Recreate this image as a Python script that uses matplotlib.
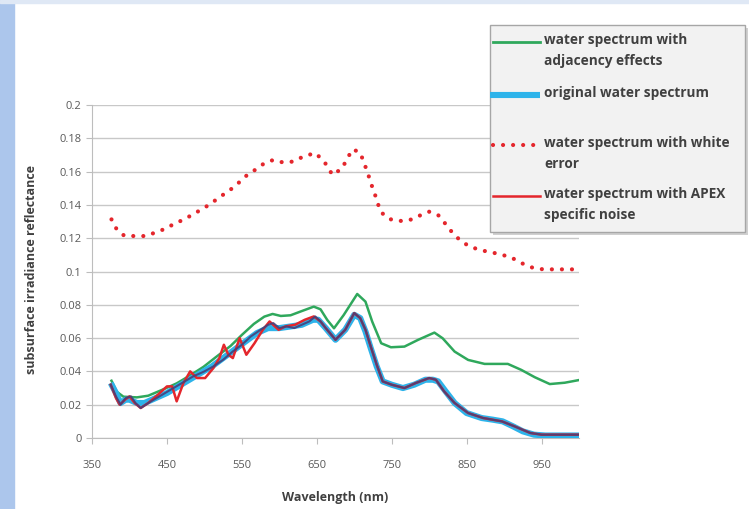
import matplotlib
matplotlib.use('Agg')
import matplotlib.pyplot as plt
from matplotlib.lines import Line2D
from matplotlib.patches import Rectangle

plt.rcParams['font.family'] = ['Open Sans', 'DejaVu Sans']

# white error spectrum (dotted)
wl_white = [376, 383, 393, 406, 421, 434, 448, 460, 474, 486, 498, 509, 521, 533, 544, 554,
            566, 580, 592, 605, 618, 632, 648, 660, 671, 684, 690, 698, 708, 713, 718, 722,
            727, 731, 736, 747, 760, 774, 787, 800, 812, 822, 830, 840, 852, 865, 878, 894,
            910, 924, 938, 952, 965, 981, 1000]
white = [0.1313, 0.1253, 0.1215, 0.1213, 0.1213, 0.1233, 0.1257, 0.1287, 0.1315, 0.1347,
         0.1377, 0.1409, 0.1449, 0.1485, 0.1525, 0.1569, 0.1605, 0.1650, 0.1670, 0.1655,
         0.1660, 0.1690, 0.1712, 0.1660, 0.1580, 0.1620, 0.1674, 0.1734, 0.1714, 0.1653,
         0.1593, 0.1533, 0.1473, 0.1413, 0.1355, 0.1315, 0.1303, 0.1309, 0.1335, 0.1359,
         0.1339, 0.1285, 0.1239, 0.1193, 0.1155, 0.1133, 0.1119, 0.1105, 0.1083, 0.1049,
         0.1023, 0.1013, 0.1013, 0.1013, 0.1013]

# adjacency effects spectrum
wl_adj = [376, 383, 392, 410, 425, 443, 463, 481, 499, 516, 535, 550, 566, 580, 591, 602,
          615, 628, 646, 655, 664, 673, 686, 704, 715, 724, 736, 749, 767, 785, 807, 818,
          834, 852, 874, 905, 923, 941, 961, 981, 1000]
adj = [0.0344, 0.0278, 0.0248, 0.0244, 0.0254, 0.0288, 0.0328, 0.0376, 0.0428, 0.0488,
       0.0553, 0.0619, 0.0685, 0.0729, 0.0745, 0.0733, 0.0737, 0.0759, 0.0789, 0.0773,
       0.0709, 0.0659, 0.0739, 0.0865, 0.0819, 0.0699, 0.0569, 0.0545, 0.0549, 0.0589,
       0.0633, 0.0599, 0.0519, 0.0469, 0.0445, 0.0445, 0.0409, 0.0365, 0.0324, 0.0332,
       0.0348]

# original spectrum
wl_orig = [375, 382, 388, 395, 400, 410, 420, 435, 450, 465, 480, 495, 510, 525, 540, 555,
           570, 585, 600, 615, 630, 645, 652, 662, 675, 688, 700, 708, 715, 722, 730, 738,
           750, 765, 780, 795, 805, 812, 822, 834, 850, 870, 885, 898, 912, 925, 940, 955,
           1000]
orig = [0.033, 0.027, 0.021, 0.023, 0.023, 0.021, 0.021, 0.024, 0.027, 0.031, 0.035, 0.039,
        0.043, 0.048, 0.053, 0.058, 0.063, 0.066, 0.066, 0.067, 0.068, 0.071, 0.071, 0.066,
        0.059, 0.065, 0.074, 0.072, 0.064, 0.054, 0.043, 0.034, 0.032, 0.030, 0.032, 0.035,
        0.035, 0.034, 0.028, 0.021, 0.015, 0.012, 0.011, 0.010, 0.007, 0.004, 0.002, 0.0015,
        0.0015]

# dark overlay line (drawn with the noise series)
wl_dark = [375, 382, 388, 395, 402, 408, 415, 425, 440, 455, 470, 485, 500, 512, 525, 538,
           550, 562, 575, 585, 592, 600, 610, 620, 630, 640, 648, 655, 662, 675, 688, 700,
           708, 715, 722, 730, 738, 750, 767, 782, 800, 809, 820, 834, 852, 872, 897, 914,
           935, 950, 1000]
dark = [0.032, 0.025, 0.020, 0.024, 0.025, 0.021, 0.018, 0.021, 0.025, 0.029, 0.033, 0.037,
        0.040, 0.043, 0.047, 0.052, 0.056, 0.061, 0.065, 0.068, 0.069, 0.066, 0.067, 0.066,
        0.068, 0.070, 0.073, 0.070, 0.066, 0.059, 0.065, 0.075, 0.072, 0.065, 0.055, 0.044,
        0.034, 0.032, 0.030, 0.033, 0.036, 0.035, 0.028, 0.021, 0.015, 0.012, 0.010, 0.007,
        0.003, 0.002, 0.002]

# APEX specific noise spectrum
wl_apex = [375, 382, 387, 394, 400, 407, 415, 425, 438, 450, 457, 463, 472, 481, 490, 501,
           512, 520, 526, 532, 538, 547, 556, 567, 578, 587, 599, 608, 621, 634, 646, 655,
           662, 675, 688, 700, 708, 715, 722, 730, 738, 750, 767, 782, 800, 809, 820, 834,
           852, 872, 897, 914, 935, 950, 1000]
apex = [0.032, 0.024, 0.020, 0.023, 0.025, 0.021, 0.018, 0.021, 0.026, 0.031, 0.031, 0.022,
        0.033, 0.040, 0.036, 0.036, 0.042, 0.048, 0.056, 0.050, 0.048, 0.060, 0.050, 0.057,
        0.065, 0.070, 0.065, 0.067, 0.068, 0.071, 0.073, 0.070, 0.066, 0.059, 0.065, 0.075,
        0.072, 0.065, 0.055, 0.044, 0.034, 0.032, 0.030, 0.033, 0.036, 0.035, 0.028, 0.021,
        0.015, 0.012, 0.010, 0.007, 0.003, 0.002, 0.002]

x_ticks = [350, 450, 550, 650, 750, 850, 950]
y_ticks = [0, 0.02, 0.04, 0.06, 0.08, 0.1, 0.12, 0.14, 0.16, 0.18, 0.2]
y_tick_labels = ['0', '0.02', '0.04', '0.06', '0.08', '0.1', '0.12', '0.14', '0.16', '0.18', '0.2']

legend_labels = ['water spectrum with\nadjacency effects',
                 'original water spectrum',
                 'water spectrum with white\nerror',
                 'water spectrum with APEX\nspecific noise']

c_green = '#2fa85c'
c_blue = '#2db3ea'
c_red = '#e4262c'
c_dark = '#46407a'
c_tick = '#595959'
dots = (0, (0.01, 2.4))

W, H = 749, 509
fig = plt.figure(figsize=(W / 100, H / 100), dpi=100)
fig.patches.append(Rectangle((0, 0), 14 / W, 1, transform=fig.transFigure,
                             color='#acc6ec', zorder=0))
fig.patches.append(Rectangle((0, 1 - 3 / H), 1, 3 / H, transform=fig.transFigure,
                             color='#dfe8f5', zorder=0))

ax = fig.add_axes([92 / W, 1 - 438 / H, (579 - 92) / W, (438 - 105) / H])

ax.plot(wl_white, white, color=c_red, lw=3.0, linestyle=dots,
        dash_capstyle='round', zorder=3)
ax.plot(wl_adj, adj, color=c_green, lw=1.8, zorder=3)
ax.plot(wl_orig, orig, color=c_blue, lw=4.4, solid_capstyle='butt', zorder=3)
ax.plot(wl_apex, apex, color=c_red, lw=1.8, zorder=4)
ax.plot(wl_dark, dark, color=c_dark, lw=1.5, alpha=0.9, zorder=5)

ax.set_xlim(350, 1000)
ax.set_ylim(0, 0.2)
ax.set_xticks(x_ticks)
ax.set_yticks(y_ticks)
ax.set_yticklabels(y_tick_labels)
ax.grid(axis='y', color='#c8c8c8', lw=1)
ax.set_axisbelow(True)
for s in ['top', 'right']:
    ax.spines[s].set_visible(False)
for s in ['left', 'bottom']:
    ax.spines[s].set_color('#bdbdbd')
ax.tick_params(axis='both', colors='#bdbdbd', labelcolor=c_tick, labelsize=8,
               length=4, direction='out')
ax.tick_params(axis='x', pad=12)

ax.set_xlabel('Wavelength (nm)', fontsize=9, fontweight='bold', color='#404040', labelpad=14)
fig.text(32 / W, 1 - 270 / H, 'subsurface irradiance reflectance', rotation=90,
         ha='center', va='center', fontsize=9, fontweight='bold', color='#404040')

# legend box drawn in figure pixels
def fx(px):
    return px / W

def fy(py):
    return 1 - py / H

fig.patches.append(Rectangle((fx(493), fy(235)), fx(745) - fx(490), fy(25) - fy(232),
                             transform=fig.transFigure, facecolor='#d0d0d0',
                             edgecolor='none', zorder=9))
fig.patches.append(Rectangle((fx(490), fy(232)), fx(745) - fx(490), fy(25) - fy(232),
                             transform=fig.transFigure, facecolor='#f2f2f2',
                             edgecolor='#a6a6a6', lw=1, zorder=10))
handle_styles = [
    dict(color=c_green, lw=2),
    dict(color=c_blue, lw=4.4, solid_capstyle='butt'),
    dict(color=c_red, lw=3.0, linestyle=dots, dash_capstyle='round'),
    dict(color=c_red, lw=1.8),
]
handle_x = [(493, 540), (490, 540), (493, 538), (493, 540)]
entry_y = [42, 95, 145, 196]
for lab, st, (x0, x1), y in zip(legend_labels, handle_styles, handle_x, entry_y):
    fig.add_artist(Line2D([fx(x0), fx(x1)], [fy(y), fy(y)], transform=fig.transFigure,
                          zorder=11, **st))
    fig.text(fx(544), fy(y - 9), lab, ha='left', va='top', fontsize=9.8, fontweight='bold',
             color='#404040', linespacing=1.6, zorder=11)

fig.savefig('out.png', dpi=100)
